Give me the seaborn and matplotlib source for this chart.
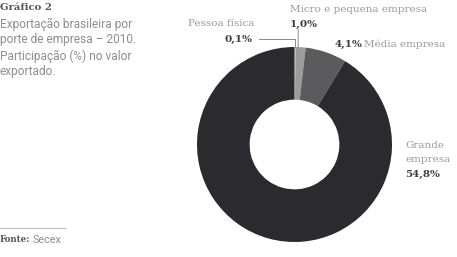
import numpy as np
import matplotlib
matplotlib.use("Agg")
import matplotlib.pyplot as plt
import seaborn as sns

# data (the slices follow these raw values)
portes = ["Pessoa física", "Micro e pequena empresa", "Média empresa", "Grande empresa"]
valores = [0.1, 1.0, 4.1, 54.8]
rotulos = ["0,1%", "1,0%", "4,1%", "54,8%"]
cores = ["#c9c9c9", "#9c9c9c", "#5b5b5d", "#2b2b2f"]

sns.set_theme(style="white")
plt.rcParams["font.family"] = ["Roboto", "DejaVu Sans"]

W, H = 457, 257
fig = plt.figure(figsize=(W / 100, H / 100), dpi=100)
fig.patch.set_facecolor("white")

def px(x, y):
    return x / W, 1 - y / H

# donut
ax = fig.add_axes([197 / W, 15 / H, 195 / W, 195 / H])
wedges, _ = ax.pie(valores, colors=cores, startangle=90, counterclock=False,
                   wedgeprops=dict(width=0.54, linewidth=0))
ax.set_xlim(-1, 1)
ax.set_ylim(-1, 1)
ax.set_aspect("equal")
ax.axis("off")

serif = "DejaVu Serif"
cinza = "#9a9a9a"
escuro = "#3a3a3a"
fs = 7.5

# title block
fig.text(*px(0, 8), "Gráfico 2", family=serif, weight="bold", fontsize=7.3,
         color="#555555", va="center", ha="left")
linhas = ["Exportação brasileira por", "porte de empresa – 2010.",
          "Participação (%) no valor", "exportado."]
for i, t in enumerate(linhas):
    fig.text(*px(0, 24 + 16 * i), t, fontsize=8.6, color="#8e8e8e",
             va="center", ha="left")

# source
fig.add_artist(plt.Line2D([0, 65 / W], [1 - 228 / H] * 2, color="#bdbdbd", lw=0.8))
fig.text(*px(0, 240), "Fonte:", family=serif, weight="bold", fontsize=6.2,
         color="#555555", va="center", ha="left")
fig.text(*px(33, 240), "Secex", fontsize=7.8, color="#8e8e8e", va="center", ha="left")

def borda(w):
    a = np.deg2rad((w.theta1 + w.theta2) / 2)
    return np.cos(a), np.sin(a)

# Pessoa física
fig.text(*px(254, 24), portes[0], family=serif, fontsize=fs, color=cinza,
         va="center", ha="right")
ax.annotate(rotulos[0], xy=borda(wedges[0]), xycoords="data",
            xytext=px(253, 39), textcoords="figure fraction",
            family=serif, weight="bold", fontsize=fs, color=escuro,
            va="center", ha="right",
            arrowprops=dict(arrowstyle="-", color="#888888", lw=0.7,
                            connectionstyle="angle,angleA=0,angleB=90,rad=0",
                            shrinkA=2, shrinkB=0))

# Micro e pequena empresa
fig.text(*px(290, 10), portes[1], family=serif, fontsize=fs, color=cinza,
         va="center", ha="left")
ax.annotate(rotulos[1], xy=borda(wedges[1]), xycoords="data",
            xytext=px(290, 24), textcoords="figure fraction",
            family=serif, weight="bold", fontsize=fs, color=escuro,
            va="center", ha="left")
x0, _ = borda(wedges[1])
ax.annotate("", xy=(x0 * 0.6, 0.97), xycoords="data",
            xytext=(x0 * 0.6, 1.18), textcoords="data",
            arrowprops=dict(arrowstyle="-", color="#888888", lw=0.7,
                            shrinkA=0, shrinkB=0))

# Média empresa
fig.text(*px(335, 44), rotulos[2], family=serif, weight="bold", fontsize=fs,
         color=escuro, va="center", ha="left")
fig.text(*px(364, 44), portes[2], family=serif, fontsize=fs, color=cinza,
         va="center", ha="left")

# Grande empresa
fig.text(*px(405, 145), "Grande", family=serif, fontsize=fs, color=cinza,
         va="center", ha="left")
fig.text(*px(405, 160), "empresa", family=serif, fontsize=fs, color=cinza,
         va="center", ha="left")
fig.text(*px(405, 174), rotulos[3], family=serif, weight="bold", fontsize=fs,
         color=escuro, va="center", ha="left")

fig.savefig("out.png", dpi=100)
